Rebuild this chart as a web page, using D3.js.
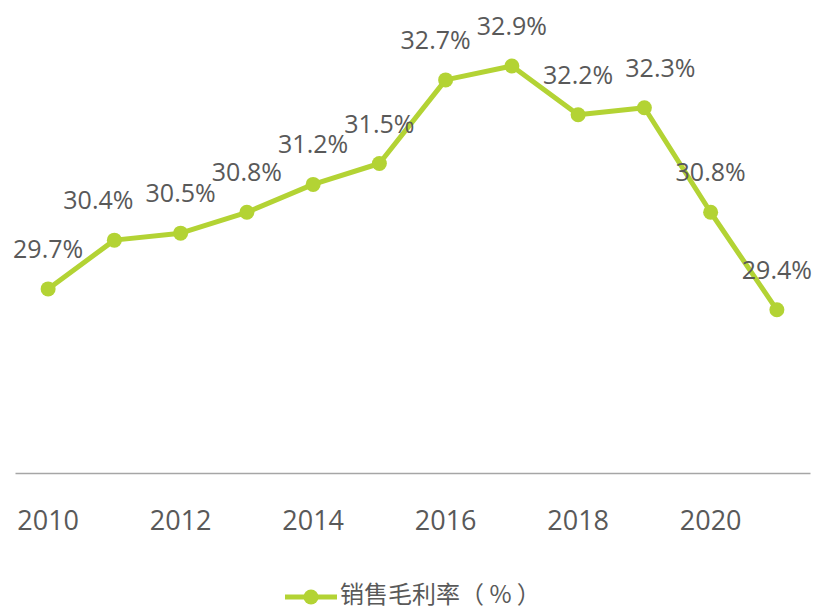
<!DOCTYPE html>
<html>
<head>
<meta charset="utf-8">
<script src="https://cdn.jsdelivr.net/npm/d3@7"></script>
<style>
  body { margin: 0; background: #fff; }
  svg { display: block; }
</style>
</head>
<body>
<div id="chart"></div>
<script>
// data
var years = ["2010", "2011", "2012", "2013", "2014", "2015", "2016", "2017", "2018", "2019", "2020", "2021"];
var margins = [29.7, 30.4, 30.5, 30.8, 31.2, 31.5, 32.7, 32.9, 32.2, 32.3, 30.8, 29.4];
var tickYears = ["2010", "2012", "2014", "2016", "2018", "2020"];
var seriesName = "销售毛利率（ % ）";
// small nudges for labels that sit off-centre in the original
var labelShift = [0, -16, 0, 0, 0, 0, -10, 0, 0, 16, 0, 0];

var width = 817, height = 610;
var green = "#b3d334", textColor = "#595959";

var svg = d3.select("#chart")
    .append("svg")
    .attr("width", width)
    .attr("height", height);

var x = d3.scaleBand()
    .domain(years)
    .range([15, 810]);

var y = d3.scaleLinear()
    .domain([27, 33])
    .range([477, 59]);

function cx(d, i) {
    return x(years[i]) + x.bandwidth() / 2;
}

// bottom axis
var axis = d3.axisBottom(x)
    .tickValues(tickYears)
    .tickSize(0)
    .tickPadding(38);
var gx = svg.append("g")
    .attr("transform", "translate(0,473)")
    .call(axis);
gx.select(".domain")
    .attr("stroke", "#a6a6a6")
    .attr("stroke-width", 1.5);
gx.selectAll("text")
    .attr("fill", textColor)
    .style("font-family", "'Open Sans', 'Noto Sans', sans-serif")
    .style("font-size", "27px");

// line
var line = d3.line()
    .x(cx)
    .y(function(d) { return y(d); });

svg.append("path")
    .datum(margins)
    .attr("fill", "none")
    .attr("stroke", green)
    .attr("stroke-width", 5)
    .attr("stroke-linejoin", "round")
    .attr("d", line);

svg.selectAll(".dot")
    .data(margins)
    .enter()
    .append("circle")
    .attr("class", "dot")
    .attr("cx", cx)
    .attr("cy", function(d) { return y(d); })
    .attr("r", 7.5)
    .attr("fill", green);

svg.selectAll(".lbl")
    .data(margins)
    .enter()
    .append("text")
    .attr("class", "lbl")
    .attr("x", function(d, i) { return cx(d, i) + labelShift[i]; })
    .attr("y", function(d) { return y(d) - 31; })
    .attr("text-anchor", "middle")
    .attr("fill", textColor)
    .style("font-family", "'Open Sans', 'Noto Sans', sans-serif")
    .style("font-size", "25px")
    .text(function(d) { return d.toFixed(1) + "%"; });

// legend
var legend = svg.append("g")
    .attr("transform", "translate(285,597)");
legend.append("line")
    .attr("x1", 0).attr("x2", 52)
    .attr("y1", 0).attr("y2", 0)
    .attr("stroke", green)
    .attr("stroke-width", 5);
legend.append("circle")
    .attr("cx", 26).attr("cy", 0)
    .attr("r", 7.5)
    .attr("fill", green);
legend.append("text")
    .attr("x", 55)
    .attr("y", 6)
    .attr("fill", textColor)
    .style("font-family", "'Noto Sans CJK SC', sans-serif")
    .style("font-size", "24px")
    .text(seriesName);
</script>
</body>
</html>
